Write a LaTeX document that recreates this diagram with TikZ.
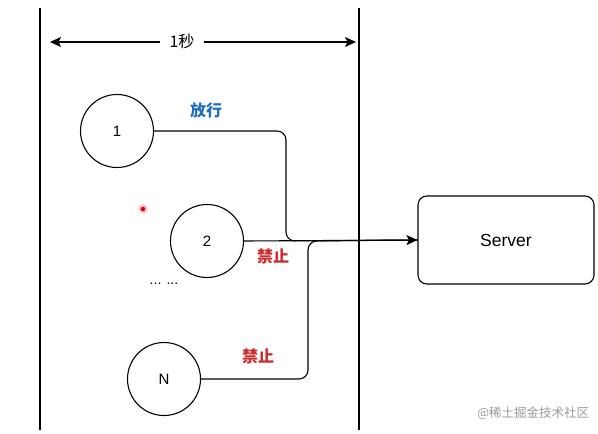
\documentclass[tikz,border=0pt]{standalone}
\usepackage{fontspec}
\setmainfont{Liberation Sans}
\newfontfamily\cjk{Noto Sans CJK SC}
\usetikzlibrary{arrows.meta}
\definecolor{okblue}{HTML}{1F6FC0}
\definecolor{nored}{HTML}{CC2B2B}
\definecolor{wmgray}{HTML}{9A9A9A}
\begin{document}
\begin{tikzpicture}[x=1pt,y=-1pt,
  line width=1.1pt,
  req/.style={draw, circle, minimum size=73pt, inner sep=0pt, font=\fontsize{15}{15}\selectfont},
  srv/.style={draw, rounded corners=9pt, minimum width=176pt, minimum height=88pt, inner sep=0pt, font=\fontsize{17.5}{17.5}\selectfont},
  lbl/.style={font=\cjk\bfseries\fontsize{16}{16}\selectfont},
  link/.style={rounded corners=9pt},
  tip/.style={-{Stealth[length=11pt,width=10pt,inset=2.5pt]}}
]
\useasboundingbox (0,0) rectangle (598,434);
% boundaries
\coordinate (lt) at (40,8);
\coordinate (lb) at (40,430);
\coordinate (rt) at (359,8);
\coordinate (rb) at (359,430);
\draw (lt) -- (lb);
\draw (rt) -- (rb);
% 1 second span
\coordinate (sa) at (50,42);
\coordinate (sb) at (356,42);
\draw[{Stealth[length=11pt,width=10pt,inset=2.5pt]}-{Stealth[length=11pt,width=10pt,inset=2.5pt]}] (sa) -- (sb);
\node[fill=white, inner xsep=10pt, font=\cjk\fontsize{16}{16}\selectfont] (sec) at (182,41) {1秒};
% requests
\node[req] (c1) at (117,131) {1};
\node[req] (c2) at (207,241) {2};
\node[req] (cN) at (164,379) {N};
\node[srv] (S) at (506,240) {Server};
% connectors
\draw[link] (c1.east) -| (286,241) -- (S.west);
\draw[link] (cN.east) -| (308,241) -- (S.west);
\draw[tip] (c2.east) -- (S.west);
% labels
\node[lbl, text=okblue] (l1) at (206,110) {放行};
\node[lbl, text=nored] (l2) at (273,256) {禁止};
\node[lbl, text=nored] (l3) at (258,356) {禁止};
\node[font=\fontsize{14}{14}\selectfont] (dots) at (164,284) {... ...};
% pointer dot
\fill[red!25] (143,209) circle (4.5pt);
\fill[red!85!black] (143,209) circle (2.2pt);
% footer
\node[text=wmgray, font=\cjk\fontsize{12.5}{12.5}\selectfont, anchor=east] (wm) at (593,413) {@稀土掘金技术社区};
\end{tikzpicture}
\end{document}
